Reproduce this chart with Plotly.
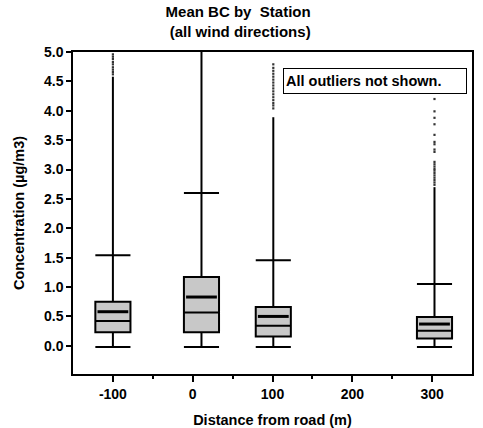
import plotly.graph_objects as go

# station positions (distance from road, m) and box statistics
station_x = [-100, 11, 101, 303]
q1 = [0.23, 0.23, 0.16, 0.125]
median = [0.42, 0.565, 0.34, 0.255]
q3 = [0.75, 1.17, 0.66, 0.49]
mean_bc = [0.58, 0.83, 0.50, 0.37]
lower_fence = [-0.02, -0.02, -0.02, -0.02]
upper_fence = [1.54, 2.60, 1.455, 1.05]
# outliers packed so tightly they look like a solid line up to this value
dense_top = [4.58, 5.0, 3.89, 2.70]
# sparser outliers above that
outliers = {
    -100: [4.62, 4.66, 4.70, 4.74, 4.79, 4.83, 4.88, 4.92, 4.96],
    11: [],
    101: [4.04, 4.09, 4.13, 4.18, 4.23, 4.28, 4.33, 4.38, 4.43, 4.48,
          4.53, 4.58, 4.63, 4.68, 4.73, 4.79],
    303: [2.74, 2.78, 2.82, 2.86, 2.90, 2.94, 2.98, 3.01, 3.05, 3.09,
          3.13, 3.30, 3.34, 3.43, 3.47, 3.59, 3.77, 3.88, 3.99, 4.20],
}
x_ticks = [-100, 0, 100, 200, 300]
x_minor = [-50, 50, 150, 250]

FONT = "Liberation Sans, Arial, sans-serif"

fig = go.Figure()

# whisker extension through the dense outliers
ext_x, ext_y = [], []
for p, u, d in zip(station_x, upper_fence, dense_top):
    ext_x += [p, p, None]
    ext_y += [u, d, None]
fig.add_trace(go.Scatter(x=ext_x, y=ext_y, mode="lines",
                         line=dict(color="black", width=2), hoverinfo="skip"))

# remaining outlier dots
ox, oy = [], []
for p, vals in outliers.items():
    ox += [p] * len(vals)
    oy += vals
fig.add_trace(go.Scatter(x=ox, y=oy, mode="markers",
                         marker=dict(symbol="square", size=2.2, color="#333")))

fig.add_trace(go.Box(x=station_x, q1=q1, median=median, q3=q3,
                     lowerfence=lower_fence, upperfence=upper_fence,
                     width=44, whiskerwidth=1, boxpoints=False,
                     fillcolor="#c8c8c8", line=dict(color="black", width=2)))

# mean marks
fig.add_trace(go.Scatter(x=station_x, y=mean_bc, mode="markers",
                         marker=dict(symbol="line-ew", size=22,
                                     line=dict(color="black", width=3))))

fig.add_annotation(x=113, y=4.72, xref="x", yref="y", xanchor="left", yanchor="top",
                   text="<b>All outliers not shown.</b>", showarrow=False, align="left",
                   width=178, height=20, borderpad=2, bordercolor="black", borderwidth=1,
                   bgcolor="white", font=dict(size=14.5, color="black", family=FONT))

fig.update_layout(
    width=483, height=428,
    margin=dict(l=73, r=11, t=52, b=54),
    paper_bgcolor="white", plot_bgcolor="white",
    showlegend=False,
    font=dict(family=FONT, size=14, color="black", weight="bold"),
    title=dict(text="<b>Mean BC by  Station</b><br><b> (all wind directions)</b>",
               x=0.493, xanchor="center", yref="container", y=1 - 17 / 428,
               yanchor="middle", font=dict(size=15)),
)
fig.update_xaxes(range=[-150, 350], tickmode="array", tickvals=x_ticks,
                 ticktext=[str(v) for v in x_ticks],
                 ticks="outside", ticklen=6, tickwidth=1.5, tickcolor="black",
                 minor=dict(ticks="outside", ticklen=3, tickwidth=1.5, tickvals=x_minor),
                 showline=True, linewidth=1.5, linecolor="black", mirror=True,
                 showgrid=False, zeroline=False, automargin=False,
                 title=dict(text="Distance from road (m)", standoff=14,
                            font=dict(size=14.5)))
fig.update_yaxes(range=[-0.48, 5.0], tickmode="linear", tick0=0, dtick=0.5, tickformat=".1f",
                 ticks="outside", ticklen=5, tickwidth=1.5, tickcolor="black",
                 showline=True, linewidth=1.5, linecolor="black", mirror=True,
                 showgrid=False, zeroline=False, automargin=False,
                 title=dict(text="Concentration (µg/m3)", standoff=16,
                            font=dict(size=14.5)))

# the page body has a default 8px margin; drop it so the figure fills the window
fig.write_html("out.html", config={"displayModeBar": False},
               post_script="document.body.style.margin='0';")
